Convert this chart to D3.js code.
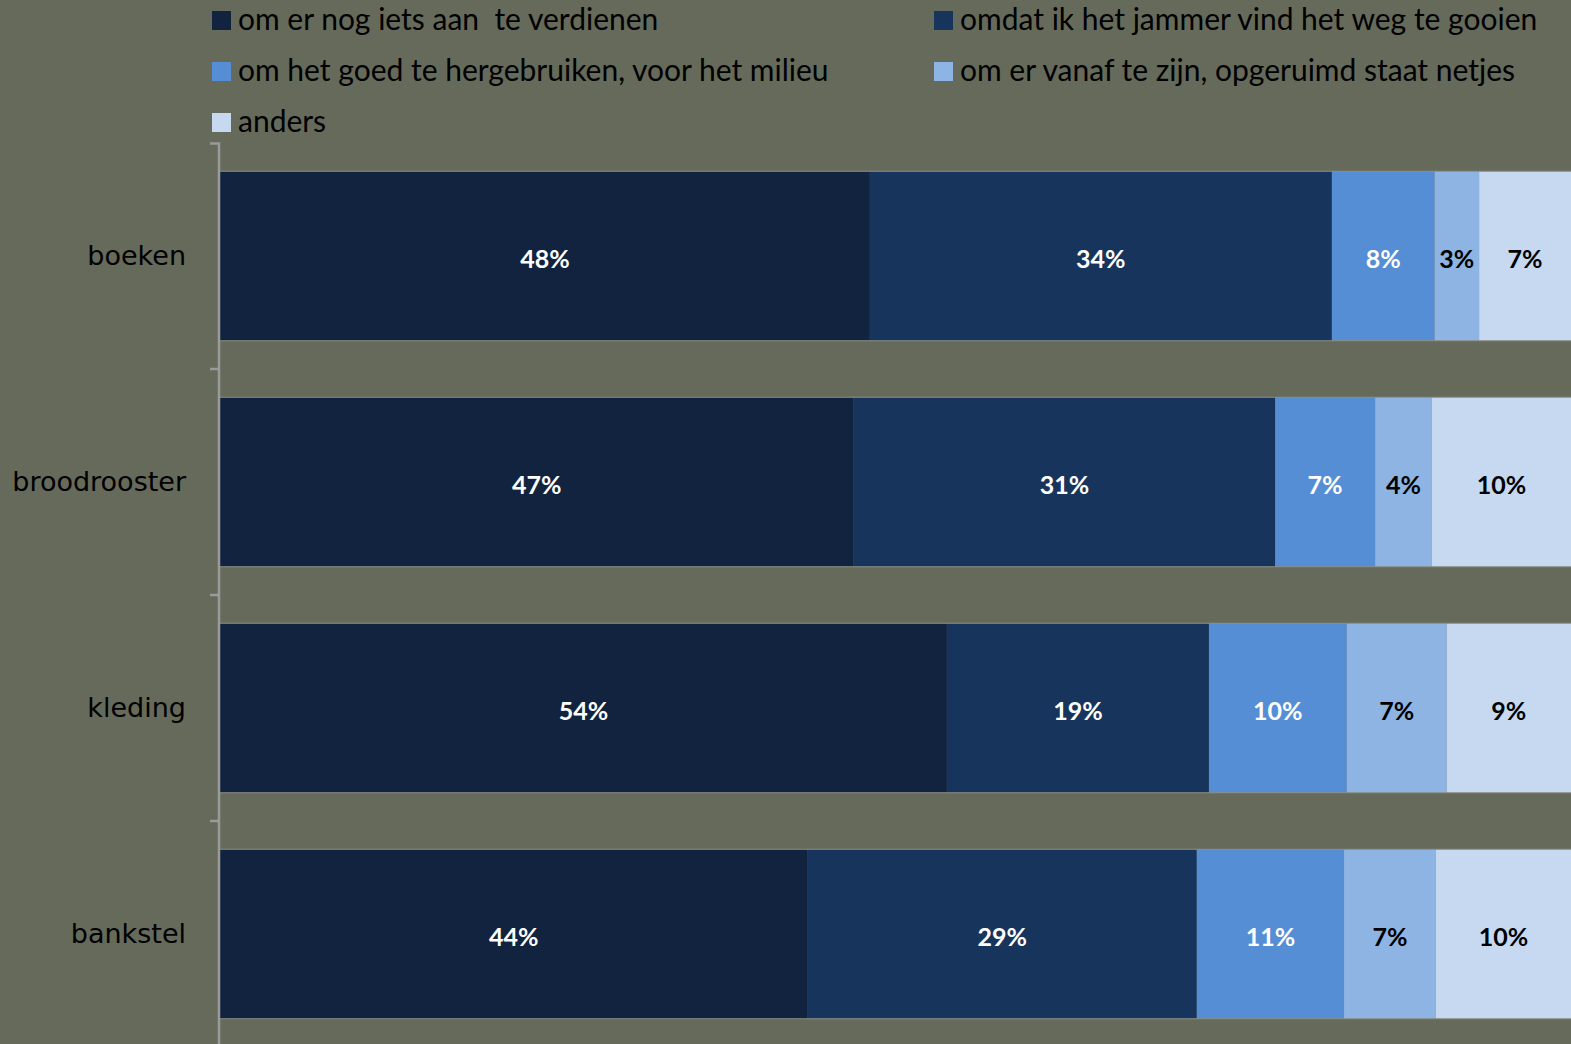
<!DOCTYPE html>
<html>
<head>
<meta charset="utf-8">
<script src="https://cdn.jsdelivr.net/npm/d3@7"></script>
<style>
  body { margin: 0; background: #666a5b; overflow: hidden; }
  svg { display: block; }
</style>
</head>
<body>
<svg></svg>
<script>
const size = {w: 1571, h: 1044};
const svg = d3.select('svg');

// categories and answer options
const categories = ['boeken', 'broodrooster', 'kleding', 'bankstel'];
const reasons = [
    'om er nog iets aan  te verdienen',
    'omdat ik het jammer vind het weg te gooien',
    'om het goed te hergebruiken, voor het milieu',
    'om er vanaf te zijn, opgeruimd staat netjes',
    'anders'
];
// share per reason (percent), one array per category
const boeken = [48.1, 34.2, 7.6, 3.3, 6.8];
const broodrooster = [46.9, 31.2, 7.4, 4.2, 10.3];
const kleding = [53.8, 19.4, 10.2, 7.4, 9.2];
const bankstel = [43.5, 28.8, 10.9, 6.8, 10.0];

const colors = ['#11233f', '#17355c', '#558ed5', '#8eb4e3', '#c6d9f1'];
const labelColors = ['#ffffff', '#ffffff', '#ffffff', '#000000', '#000000'];

svg.attr('width', size.w)
    .attr('height', size.h);

// build rows for the stack
const rows = [boeken, broodrooster, kleding, bankstel].map((vals, i) => {
    let row = {cat: categories[i]};
    reasons.forEach((r, j) => row[r] = vals[j]);
    return row;
});

const stack = d3.stack().keys(reasons);
const series = stack(rows);

const x = d3.scaleLinear()
    .domain([0, 100])
    .range([220, 1571]);

const y = d3.scaleBand()
    .domain(categories)
    .range([143, 1047])
    .paddingInner(0.25)
    .paddingOuter(0.125);

const colorScale = d3.scaleOrdinal().domain(reasons).range(colors);
const textScale = d3.scaleOrdinal().domain(reasons).range(labelColors);

// --------- BARS ----------
let barsG = svg.append('g').classed('bars', true);

let layers = barsG.selectAll('g.layer')
    .data(series)
    .join('g')
    .classed('layer', true)
    .attr('fill', d => colorScale(d.key));

layers.selectAll('rect')
    .data(d => d)
    .join('rect')
    .attr('x', d => x(d[0]))
    .attr('y', d => y(d.data.cat))
    .attr('width', d => x(d[1]) - x(d[0]))
    .attr('height', y.bandwidth());

// thin light edge on top and bottom of each bar
barsG.selectAll('line.edge')
    .data(categories.flatMap(c => [y(c), y(c) + y.bandwidth()]))
    .join('line')
    .classed('edge', true)
    .attr('x1', x(0))
    .attr('x2', x(100))
    .attr('y1', d => d)
    .attr('y2', d => d)
    .attr('stroke', '#8d9184')
    .attr('stroke-width', 1);

// value labels
layers.selectAll('text')
    .data(d => d.map(p => Object.assign({key: d.key}, p)))
    .join('text')
    .attr('x', d => (x(d[0]) + x(d[1])) / 2)
    .attr('y', d => y(d.data.cat) + y.bandwidth() / 2 + 12)
    .attr('text-anchor', 'middle')
    .attr('fill', d => textScale(d.key))
    .style('font-family', 'Lato, "Open Sans", sans-serif')
    .style('font-weight', 'bold')
    .style('font-size', '25px')
    .text(d => Math.round(d[1] - d[0]) + '%');

// --------- AXIS ----------
const yAxis = d3.axisLeft(y)
    .tickSize(0)
    .tickPadding(33);

let axisG = svg.append('g')
    .attr('transform', 'translate(219,0)')
    .call(yAxis);

axisG.select('.domain')
    .attr('stroke', '#9a9a9a')
    .attr('stroke-width', 2.5)
    .attr('d', 'M-9,143.5H0V1047');

axisG.selectAll('.tick text')
    .attr('fill', '#000')
    .style('font-family', '"DejaVu Sans", sans-serif')
    .style('font-size', '27px');

// category separators on the axis
axisG.selectAll('line.sep')
    .data(categories.slice(1))
    .join('line')
    .classed('sep', true)
    .attr('x1', -9)
    .attr('x2', 0)
    .attr('y1', d => y(d) - y.step() * y.paddingInner() / 2)
    .attr('y2', d => y(d) - y.step() * y.paddingInner() / 2)
    .attr('stroke', '#9a9a9a')
    .attr('stroke-width', 2.5);

// --------- LEGEND ----------
const legendPos = [[212, 20], [934, 20], [212, 71], [934, 71], [212, 122]];

let legendG = svg.append('g').classed('legend', true);
let items = legendG.selectAll('g')
    .data(reasons)
    .join('g')
    .attr('transform', (d, i) => 'translate(' + legendPos[i] + ')');

items.append('rect')
    .attr('x', 0)
    .attr('y', -9)
    .attr('width', 19)
    .attr('height', 19)
    .attr('fill', d => colorScale(d));

items.append('text')
    .attr('x', 26)
    .attr('y', 10)
    .attr('fill', '#000')
    .style('font-family', 'Lato, sans-serif')
    .style('font-size', '30px')
    .style('white-space', 'pre')
    .text(d => d);
</script>
</body>
</html>
